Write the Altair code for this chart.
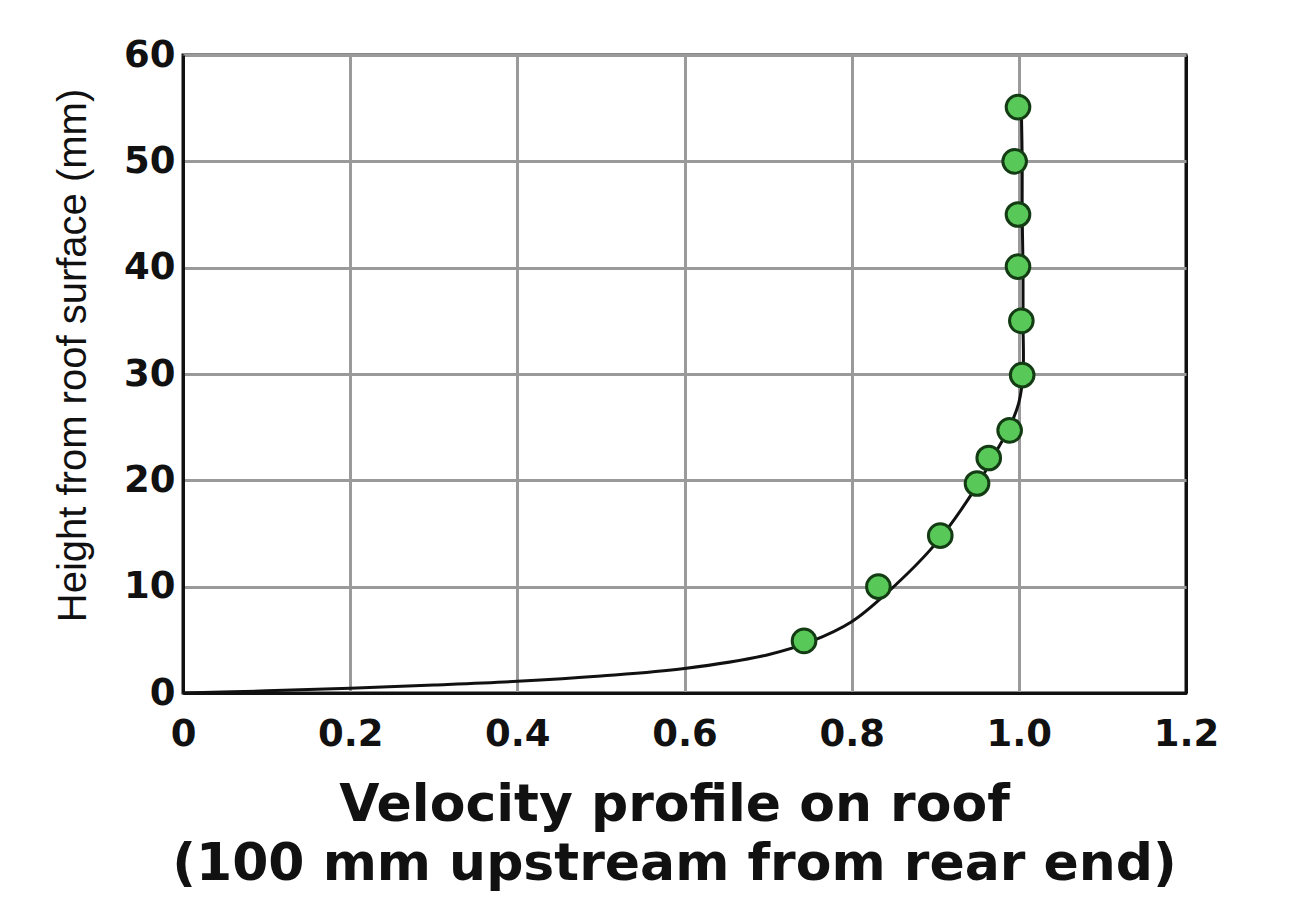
import altair as alt
import pandas as pd

# Measured points (velocity ratio, height mm)
vel_pts = [0.743, 0.832, 0.906, 0.950, 0.964, 0.989, 1.004, 1.003, 0.999, 0.999, 0.995, 0.999]
h_pts = [4.9, 10.0, 14.8, 19.7, 22.1, 24.7, 29.9, 35.0, 40.1, 45.0, 50.0, 55.1]

# Fitted profile curve
curve_v = [0.0, 0.1, 0.2, 0.3, 0.4, 0.5, 0.6, 0.7, 0.75, 0.8, 0.842, 0.9, 0.95, 0.97, 0.99, 1.0, 1.005, 1.005, 1.005, 1.004, 1.004, 1.003]
curve_h = [0.0, 0.2, 0.45, 0.75, 1.1, 1.6, 2.3, 3.6, 4.8, 6.7, 9.4, 14.0, 19.5, 22.3, 25.2, 27.3, 30.0, 35.0, 40.0, 45.0, 50.0, 55.0]

x_ticks = [0, 0.2, 0.4, 0.6, 0.8, 1.0, 1.2]
y_ticks = [0, 10, 20, 30, 40, 50, 60]

pts = pd.DataFrame({"v": vel_pts, "h": h_pts})
curve = pd.DataFrame({"v": curve_v, "h": curve_h, "i": list(range(len(curve_v)))})

label_expr = "datum.value == 0 ? '0' : format(datum.value, '.1f')"

x_enc = alt.X(
    "v:Q",
    scale=alt.Scale(domain=[0, 1.2], nice=False, zero=False),
    axis=alt.Axis(
        values=x_ticks,
        labelExpr=label_expr,
        labelFlush=False,
        title=["Velocity profile on roof", "(100 mm upstream from rear end)"],
        labelPadding=23,
        titleFont="DejaVu Sans",
        titleFontWeight="bold",
        titleFontSize=52,
        titleLineHeight=59,
        titleX=491,
        titleY=86,
        titleBaseline="top",
        titleColor="#111111",
        gridColor={"condition": {"test": "datum.value == 1.2", "value": "#111111"}, "value": "#9a9a9a"},
    ),
)
y_enc = alt.Y(
    "h:Q",
    scale=alt.Scale(domain=[0, 60], nice=False, zero=False),
    axis=alt.Axis(
        values=y_ticks,
        labelExpr="format(datum.value, 'd')",
        labelFlush=False,
        title="Height from roof surface (mm)",
        labelPadding=8,
        titleFont="Liberation Sans",
        titleFontWeight="normal",
        titleFontSize=40,
        titleX=-98,
        titleY=300,
        titleBaseline="alphabetic",
        titleColor="#111111",
        gridColor={"condition": {"test": "datum.value == 0", "value": "#111111"}, "value": "#9a9a9a"},
    ),
)

line = alt.Chart(curve).mark_line(
    color="#111111", strokeWidth=3, interpolate="catmull-rom"
).encode(x=x_enc, y=y_enc, order="i:Q")

dots = alt.Chart(pts).mark_point(
    shape="circle", filled=True, size=560, fill="#58c858", stroke="#143c14", strokeWidth=3, opacity=1
).encode(x="v:Q", y="h:Q")

chart = (
    alt.layer(line, dots)
    .properties(
        width=1003,
        height=638,
        autosize=alt.AutoSizeParams(type="none"),
        padding={"left": 175, "top": 47, "right": 90, "bottom": 206},
        background="white",
    )
    .configure_view(stroke="#111111", strokeWidth=3)
    .configure_axis(
        domainColor="#111111",
        domainWidth=3,
        ticks=False,
        tickSize=0,
        gridWidth=3,
        labelFont="DejaVu Sans",
        labelFontWeight="bold",
        labelFontSize=37,
        labelColor="#111111",
    )
)

chart.save("out.html", embed_options={"renderer": "svg", "actions": False})
